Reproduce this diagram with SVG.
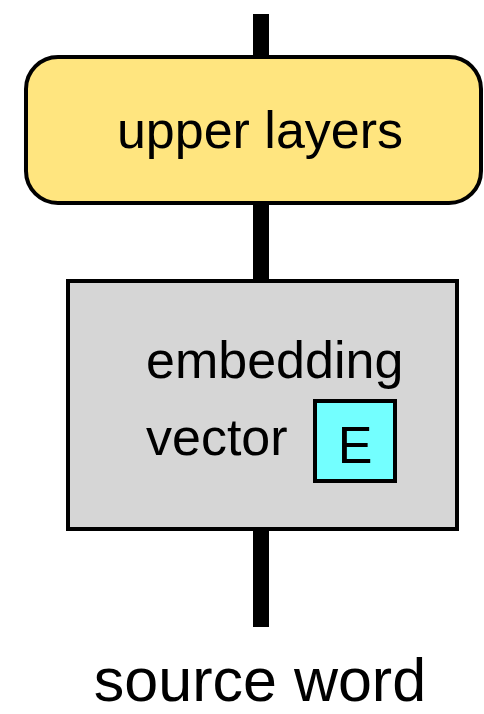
<svg xmlns="http://www.w3.org/2000/svg" width="484" height="714" viewBox="0 0 484 714">
<style>
text{font-family:"Liberation Sans",Arial,sans-serif;fill:#000}
.wire{stroke:#000;stroke-width:16;fill:none}
</style>
<rect width="484" height="714" fill="#fff"/>
<g id="connectors">
<line class="wire" x1="261" y1="14" x2="261" y2="60"/>
<line class="wire" x1="261" y1="200" x2="261" y2="283"/>
<line class="wire" x1="261" y1="527" x2="261" y2="627"/>
</g>
<g id="upper-layers">
<rect x="26" y="57" width="455" height="146" rx="32" ry="32" fill="#ffe57f" stroke="#000" stroke-width="4"/>
<text x="260" y="148" font-size="52" text-anchor="middle">upper layers</text>
</g>
<g id="embedding">
<rect x="68" y="281" width="389" height="248" fill="#d6d6d6" stroke="#000" stroke-width="4"/>
<text x="146" y="378" font-size="52">embedding</text>
<text x="146" y="455" font-size="52">vector</text>
<g id="E">
<rect x="315" y="401" width="80" height="80" fill="#73ffff" stroke="#000" stroke-width="4"/>
<text x="355" y="463" font-size="52" text-anchor="middle">E</text>
</g>
</g>
<g id="source-word">
<text x="260" y="701" font-size="61" text-anchor="middle">source word</text>
</g>
</svg>
